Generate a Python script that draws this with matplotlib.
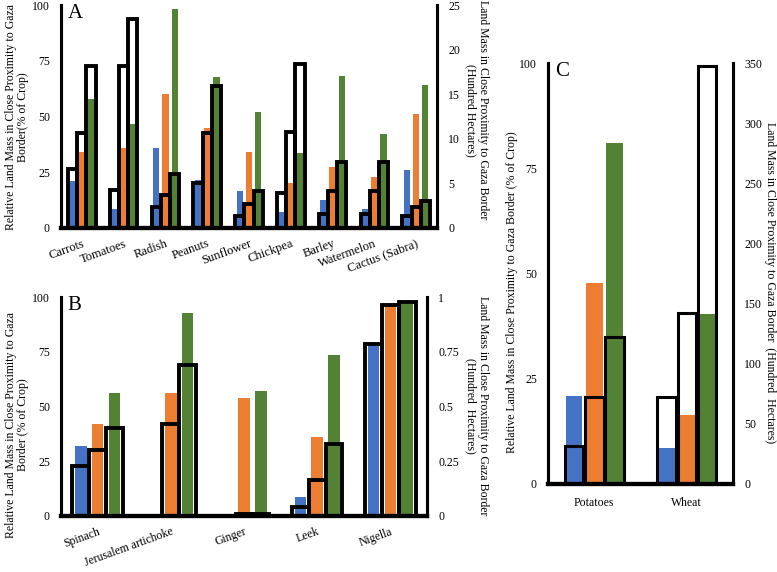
import matplotlib
matplotlib.use("Agg")
import matplotlib.pyplot as plt
import numpy as np

plt.rcParams['font.family'] = ['Liberation Serif', 'DejaVu Serif']

BLUE = '#4472C4'
ORANGE = '#ED7D31'
GREEN = '#548235'

# Panel A
A_cats = ['Carrots', 'Tomatoes', 'Radish', 'Peanuts', 'Sunflower', 'Chickpea',
          'Barley', 'Watermelon', 'Cactus (Sabra)']
A_blue = [21, 8.5, 36, 21.5, 16.5, 7, 12.5, 8.5, 26]
A_orange = [34, 36, 60, 45, 34, 20, 27.5, 23, 51]
A_green = [58, 46.5, 98, 67.5, 52, 33.5, 68, 42, 64]
A_hect_blue = [6.6, 4.3, 2.3, 5.1, 1.4, 3.9, 1.6, 1.6, 1.3]
A_hect_orange = [10.7, 18.2, 3.7, 10.7, 2.7, 10.8, 4.1, 4.1, 2.4]
A_hect_green = [18.2, 23.4, 6.0, 15.9, 4.1, 18.4, 7.4, 7.4, 3.0]
A_left_ticks = [0, 25, 50, 75, 100]
A_right_ticks = [0, 5, 10, 15, 20, 25]

# Panel B
B_cats = ['Spinach', 'Jerusalem artichoke', 'Ginger', 'Leek', 'Nigella']
B_blue = [32, 0, 0, 8.8, 78]
B_orange = [42, 56, 54, 36, 96]
B_green = [56, 92.5, 57, 73.5, 97]
B_hect_blue = [0.23, 0, 0, 0.04, 0.785]
B_hect_orange = [0.30, 0.42, 0.01, 0.165, 0.965]
B_hect_green = [0.40, 0.69, 0.01, 0.33, 0.975]
B_left_ticks = [0, 25, 50, 75, 100]
B_right_ticks = [0, 0.25, 0.5, 0.75, 1]
B_right_labels = ['0', '0.25', '0.5', '0.75', '1']

# Panel C
C_cats = ['Potatoes', 'Wheat']
C_blue = [21, 8.5]
C_orange = [47.7, 16.4]
C_green = [81, 40.4]
C_hect_blue = [32, 72.5]
C_hect_orange = [72, 142]
C_hect_green = [122.5, 347.5]
C_left_ticks = [0, 25, 50, 75, 100]
C_right_ticks = [0, 50, 100, 150, 200, 250, 300, 350]

W, H = 777, 572
fig = plt.figure(figsize=(W / 100, H / 100), dpi=100)


def rect(l, r, t, b):
    return [l / W, 1 - b / H, (r - l) / W, (b - t) / H]


def panel(px, cats, blue, orange, green, hb, ho, hg, lticks, rticks, rlabels,
          rmax, cw, sp, ow, olw, rot, xfs):
    ax = fig.add_axes(rect(*px))
    x = np.arange(len(cats))
    for k, (vals, col) in enumerate([(blue, BLUE), (orange, ORANGE), (green, GREEN)]):
        ax.bar(x + (k - 1) * sp, vals, width=cw, color=col, zorder=2)
    ax.set_xlim(-0.5, len(cats) - 0.5)
    ax.set_ylim(0, 100)
    ax.set_yticks(lticks)
    ax.set_yticklabels([str(t) for t in lticks])
    ax2 = ax.twinx()
    for k, vals in enumerate([hb, ho, hg]):
        ax2.bar(x + (k - 1) * sp, vals, width=ow, facecolor='none',
                edgecolor='black', linewidth=olw, zorder=3)
    ax2.set_ylim(0, rmax)
    ax2.set_yticks(rticks)
    ax2.set_yticklabels(rlabels)
    for a in (ax, ax2):
        a.spines['top'].set_visible(False)
        a.tick_params(length=0, labelsize=8.5, pad=8)
        a.spines['left'].set_linewidth(2.2)
        a.spines['right'].set_linewidth(2.2)
        a.spines['bottom'].set_linewidth(3)
    ax.set_xticks(x)
    if rot:
        ax.set_xticklabels(cats, rotation=20, ha='right', rotation_mode='anchor',
                           fontsize=xfs)
        ax.tick_params(axis='x', pad=7)
    else:
        ax.set_xticklabels(cats, fontsize=xfs)
        ax.tick_params(axis='x', pad=9)
    return ax, ax2


panel((61, 437, 5, 228), A_cats, A_blue, A_orange, A_green,
      A_hect_blue, A_hect_orange, A_hect_green, A_left_ticks, A_right_ticks,
      [str(t) for t in A_right_ticks], 25, 0.15, 0.22, 0.22, 2.8, True, 9)
panel((61, 427, 297, 516), B_cats, B_blue, B_orange, B_green,
      B_hect_blue, B_hect_orange, B_hect_green, B_left_ticks, B_right_ticks,
      B_right_labels, 1, 0.16, 0.23, 0.23, 2.8, True, 8.5)
panel((548, 733, 63, 484), C_cats, C_blue, C_orange, C_green,
      C_hect_blue, C_hect_orange, C_hect_green, C_left_ticks, C_right_ticks,
      [str(t) for t in C_right_ticks], 350, 0.18, 0.22, 0.2, 2.2, False, 8.5)


def ftext(x, y, s, **kw):
    fig.text(x / W, 1 - y / H, s, **kw)


lab = dict(fontsize=8.5, ha='center', va='center', linespacing=1.05, multialignment='center')
ftext(17, 117, 'Relative Land Mass in Close Proximity to Gaza\nBorder(% of Crop)', rotation=90, **lab)
ftext(477, 110, 'Land Mass in Close Proximity to Gaza Border\n(Hundred Hectares)', rotation=270, **lab)
ftext(17, 425, 'Relative Land Mass in Close Proximity to Gaza\nBorder (% of Crop)', rotation=90, **lab)
ftext(477, 406, 'Land Mass in Close Proximity to Gaza Border\n(Hundred  Hectares)', rotation=270, **lab)
ftext(512, 292, 'Relative Land Mass in Close Proximity to Gaza Border (% of Crop)', rotation=90, **lab)
ftext(770, 283, 'Land Mass in Close Proximity to Gaza Border  (Hundred  Hectares)', rotation=270, **lab)

ftext(68, 14, 'A', fontsize=15, ha='left', va='center')
ftext(67, 306, 'B', fontsize=15, ha='left', va='center')
ftext(555, 71, 'C', fontsize=15, ha='left', va='center')

fig.savefig('out.png', dpi=100)
